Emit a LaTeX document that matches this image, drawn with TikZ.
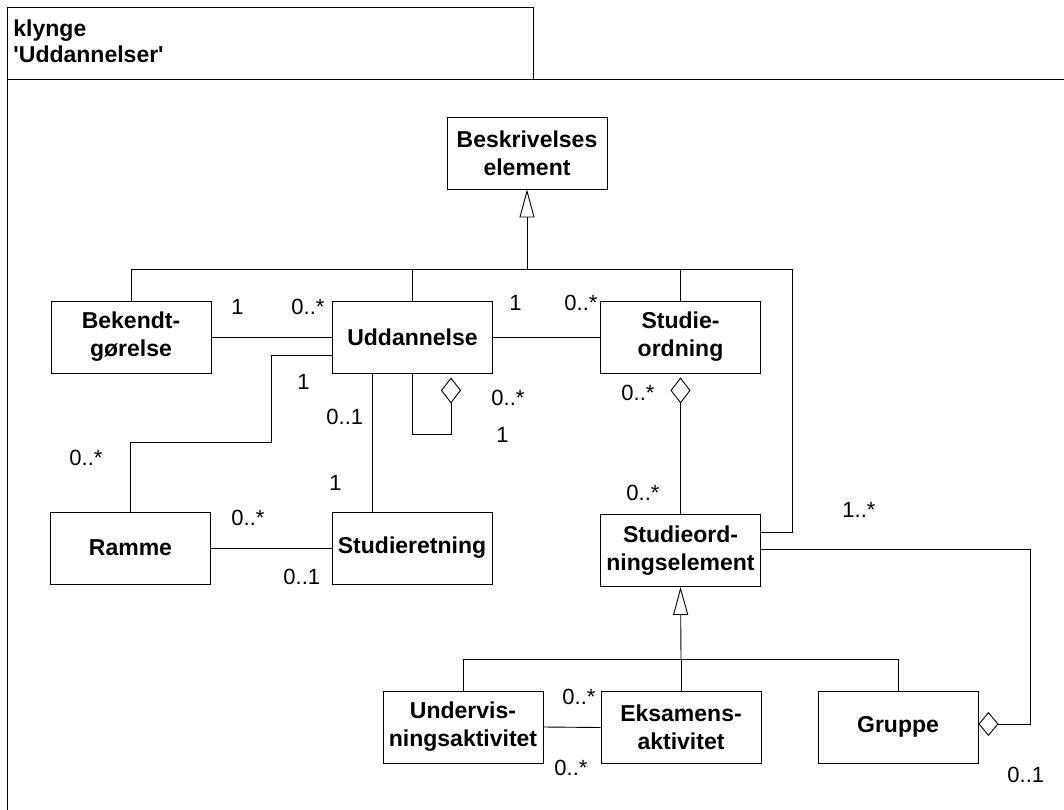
\documentclass[tikz,border=0pt]{standalone}
\usepackage{fontspec}
\setmainfont{Liberation Sans}
\usetikzlibrary{arrows.meta}
\begin{document}
\begin{tikzpicture}[x=1pt,y=-1pt,
  every path/.style={line width=0.9pt},
  cls/.style={draw, line width=0.9pt, minimum width=160pt, minimum height=72pt, inner sep=0pt, align=center,
    font=\fontsize{23}{28}\selectfont\bfseries},
  mult/.style={anchor=west, inner sep=0pt, font=\fontsize{22}{26}\selectfont},
  hdr/.style={anchor=base west, inner sep=0pt, font=\fontsize{23}{26}\selectfont\bfseries},
  gen/.style={-{Triangle[open,length=28pt,width=15pt]}},
  agg/.style={-{Diamond[open,length=26pt,width=20pt]}}
]
\useasboundingbox (0,0) rectangle (1064,810);
% frame
\draw (7,7) rectangle (533,79);
\draw (7,810) -- (7,79) -- (1064,79);
\node[hdr] (h1) at (13,37) {klynge};
\node[hdr] (h2) at (13,63) {\textquotesingle Uddannelser\textquotesingle};

% classes
\node[cls] (besk) at (527,153) {Beskrivelses\\element};
\node[cls] (bek) at (131,337) {Bekendt-\\gørelse};
\node[cls] (udd) at (412.5,337) {Uddannelse};
\node[cls] (stud) at (680.5,337) {Studie-\\ordning};
\node[cls] (ramme) at (130.5,548) {Ramme};
\node[cls] (sret) at (412,548) {Studieretning};
\node[cls] (soe) at (680.5,550.5) {Studieord-\\ningselement};
\node[cls] (underv) at (463,727) {Undervis-\\ningsaktivitet};
\node[cls] (eks) at (681,727.5) {Eksamens-\\aktivitet};
\node[cls] (gruppe) at (898,727) {Gruppe};

% generalization 1
\coordinate (g1) at (527,269);
\draw[gen] (g1) -- (besk.south);
\draw (bek.north) -- (bek.north |- g1) -- (792,269) -- (792,532) -- ([yshift=18.5pt]soe.east);
\draw (udd.north) -- (udd.north |- g1);
\draw (stud.north) -- (stud.north |- g1);

% associations
\draw (bek.east) -- (udd.west);
\draw (udd.east) -- (stud.west);
\draw ([yshift=-18pt]udd.west) -- (271,355) -- (271,442) -| (ramme.north);
\draw ([xshift=-40.5pt]udd.south) -- ([xshift=-40pt]sret.north);
\draw (ramme.east) -- (sret.west);
\draw[agg] (udd.south) -- ++(0,61) -| ([xshift=38.5pt,yshift=-4pt]udd.south);
\draw[agg] (soe.north) -- ([yshift=-4pt]stud.south);
\draw[-{Diamond[open,length=20pt,width=24pt]}] ([yshift=1.5pt]soe.east) -- (1030,549) |- ([yshift=3pt]gruppe.east);

% generalization 2
\coordinate (g2) at (681,659);
\draw[gen] (g2) -- (soe.south);
\draw (underv.north) |- (gruppe.north |- g2) -- (gruppe.north);
\draw (eks.north) -- (g2);
\draw (underv.east) -- (eks.west);

% multiplicities
\node[mult] (m1) at (231,307) {1};
\node[mult] (m2) at (291,307) {0..*};
\node[mult] (m3) at (509,303) {1};
\node[mult] (m4) at (564,303) {0..*};
\node[mult] (m5) at (297,382) {1};
\node[mult] (m6) at (326,417) {0..1};
\node[mult] (m7) at (491,398) {0..*};
\node[mult] (m8) at (496,435) {1};
\node[mult] (m9) at (621,393) {0..*};
\node[mult] (m10) at (69,458) {0..*};
\node[mult] (m11) at (329,483) {1};
\node[mult] (m12) at (231,518) {0..*};
\node[mult] (m13) at (283,577) {0..1};
\node[mult] (m14) at (626,493) {0..*};
\node[mult] (m15) at (842,510) {1..*};
\node[mult] (m16) at (562,697) {0..*};
\node[mult] (m17) at (554,768) {0..*};
\node[mult] (m18) at (1007,775) {0..1};
\end{tikzpicture}
\end{document}
